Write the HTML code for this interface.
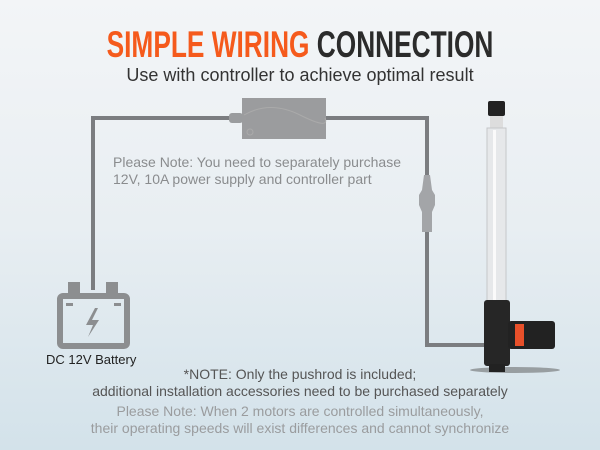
<!DOCTYPE html>
<html><head><meta charset="utf-8"><style>
body{margin:0}
#c{position:relative;width:600px;height:450px;overflow:hidden;background:linear-gradient(180deg,#f3f5f7 0%,#e8eef2 50%,#d3e2ea 100%);font-family:"Liberation Sans",sans-serif}
.t{position:absolute;left:0;width:600px;text-align:center}
</style></head><body><div id="c">
<div class="t" style="top:25px;font-size:37px;font-weight:bold;transform:scaleX(0.71);line-height:40px"><span style="color:#f55a1c">SIMPLE WIRING</span> <span style="color:#2b2b2b">CONNECTION</span></div>
<div class="t" style="top:65px;font-size:18px;color:#333">Use with controller to achieve optimal result</div>
<svg width="600" height="450" style="position:absolute;left:0;top:0">
<g fill="none" stroke="#7b7d80" stroke-width="4">
<path d="M93 290 V118 H232"/>
<path d="M325 118 H427 V345 H490"/>
</g>
<rect x="229" y="113" width="14" height="10" rx="3" fill="#9a9c9e"/>
<rect x="242" y="98" width="84" height="41" fill="#9b9c9e"/>
<path d="M244 115 Q270 100 300 115 T325 118" stroke="#aaa" fill="none"/>
<circle cx="250" cy="132" r="3" fill="none" stroke="#aaa"/>
<path d="M424 175 L430 175 L432 190 L435 195 L435 205 L432 212 L432 232 L422 232 L422 212 L419 205 L419 195 L422 190 Z" fill="#a3a5a8"/>
<g fill="#8c8e90">
<rect x="68" y="282" width="12" height="11"/><rect x="106" y="282" width="12" height="11"/>
<rect x="60" y="296" width="67" height="50" rx="3" fill="none" stroke="#8c8e90" stroke-width="6"/>
<rect x="66" y="303" width="7" height="3"/><rect x="114" y="303" width="7" height="3"/>
<path d="M95 308 L86 325 L93 325 L88 337 L99 320 L92 320 L98 308Z"/>
</g>
<ellipse cx="515" cy="370" rx="45" ry="3" fill="#555" opacity=".5"/>
<rect x="488" y="101" width="17" height="15" rx="2" fill="#222"/>
<rect x="490" y="116" width="13" height="12" fill="#ddd"/>
<rect x="487" y="128" width="19" height="174" fill="#e6e8ea" stroke="#c5c7c9"/>
<rect x="493" y="130" width="3" height="170" fill="#fafafa"/>
<rect x="484" y="300" width="26" height="66" rx="3" fill="#262626"/>
<rect x="508" y="321" width="47" height="28" rx="3" fill="#222"/>
<rect x="515" y="324" width="9" height="22" fill="#e8502a"/>
<rect x="489" y="364" width="16" height="8" fill="#222"/>
</svg>
<div style="position:absolute;left:113px;top:154px;font-size:14px;color:#8a8c8e;line-height:17px">Please Note: You need to separately purchase<br>12V, 10A power supply and controller part</div>
<div style="position:absolute;left:46px;top:352px;font-size:13px;color:#222">DC 12V Battery</div>
<div class="t" style="top:366px;font-size:14px;color:#555;line-height:17px">*NOTE: Only the pushrod is included;<br>additional installation accessories need to be purchased separately</div>
<div class="t" style="top:403px;font-size:14px;color:#9a9c9e;line-height:17px">Please Note: When 2 motors are controlled simultaneously,<br>their operating speeds will exist differences and cannot synchronize</div>
</div></body></html>
